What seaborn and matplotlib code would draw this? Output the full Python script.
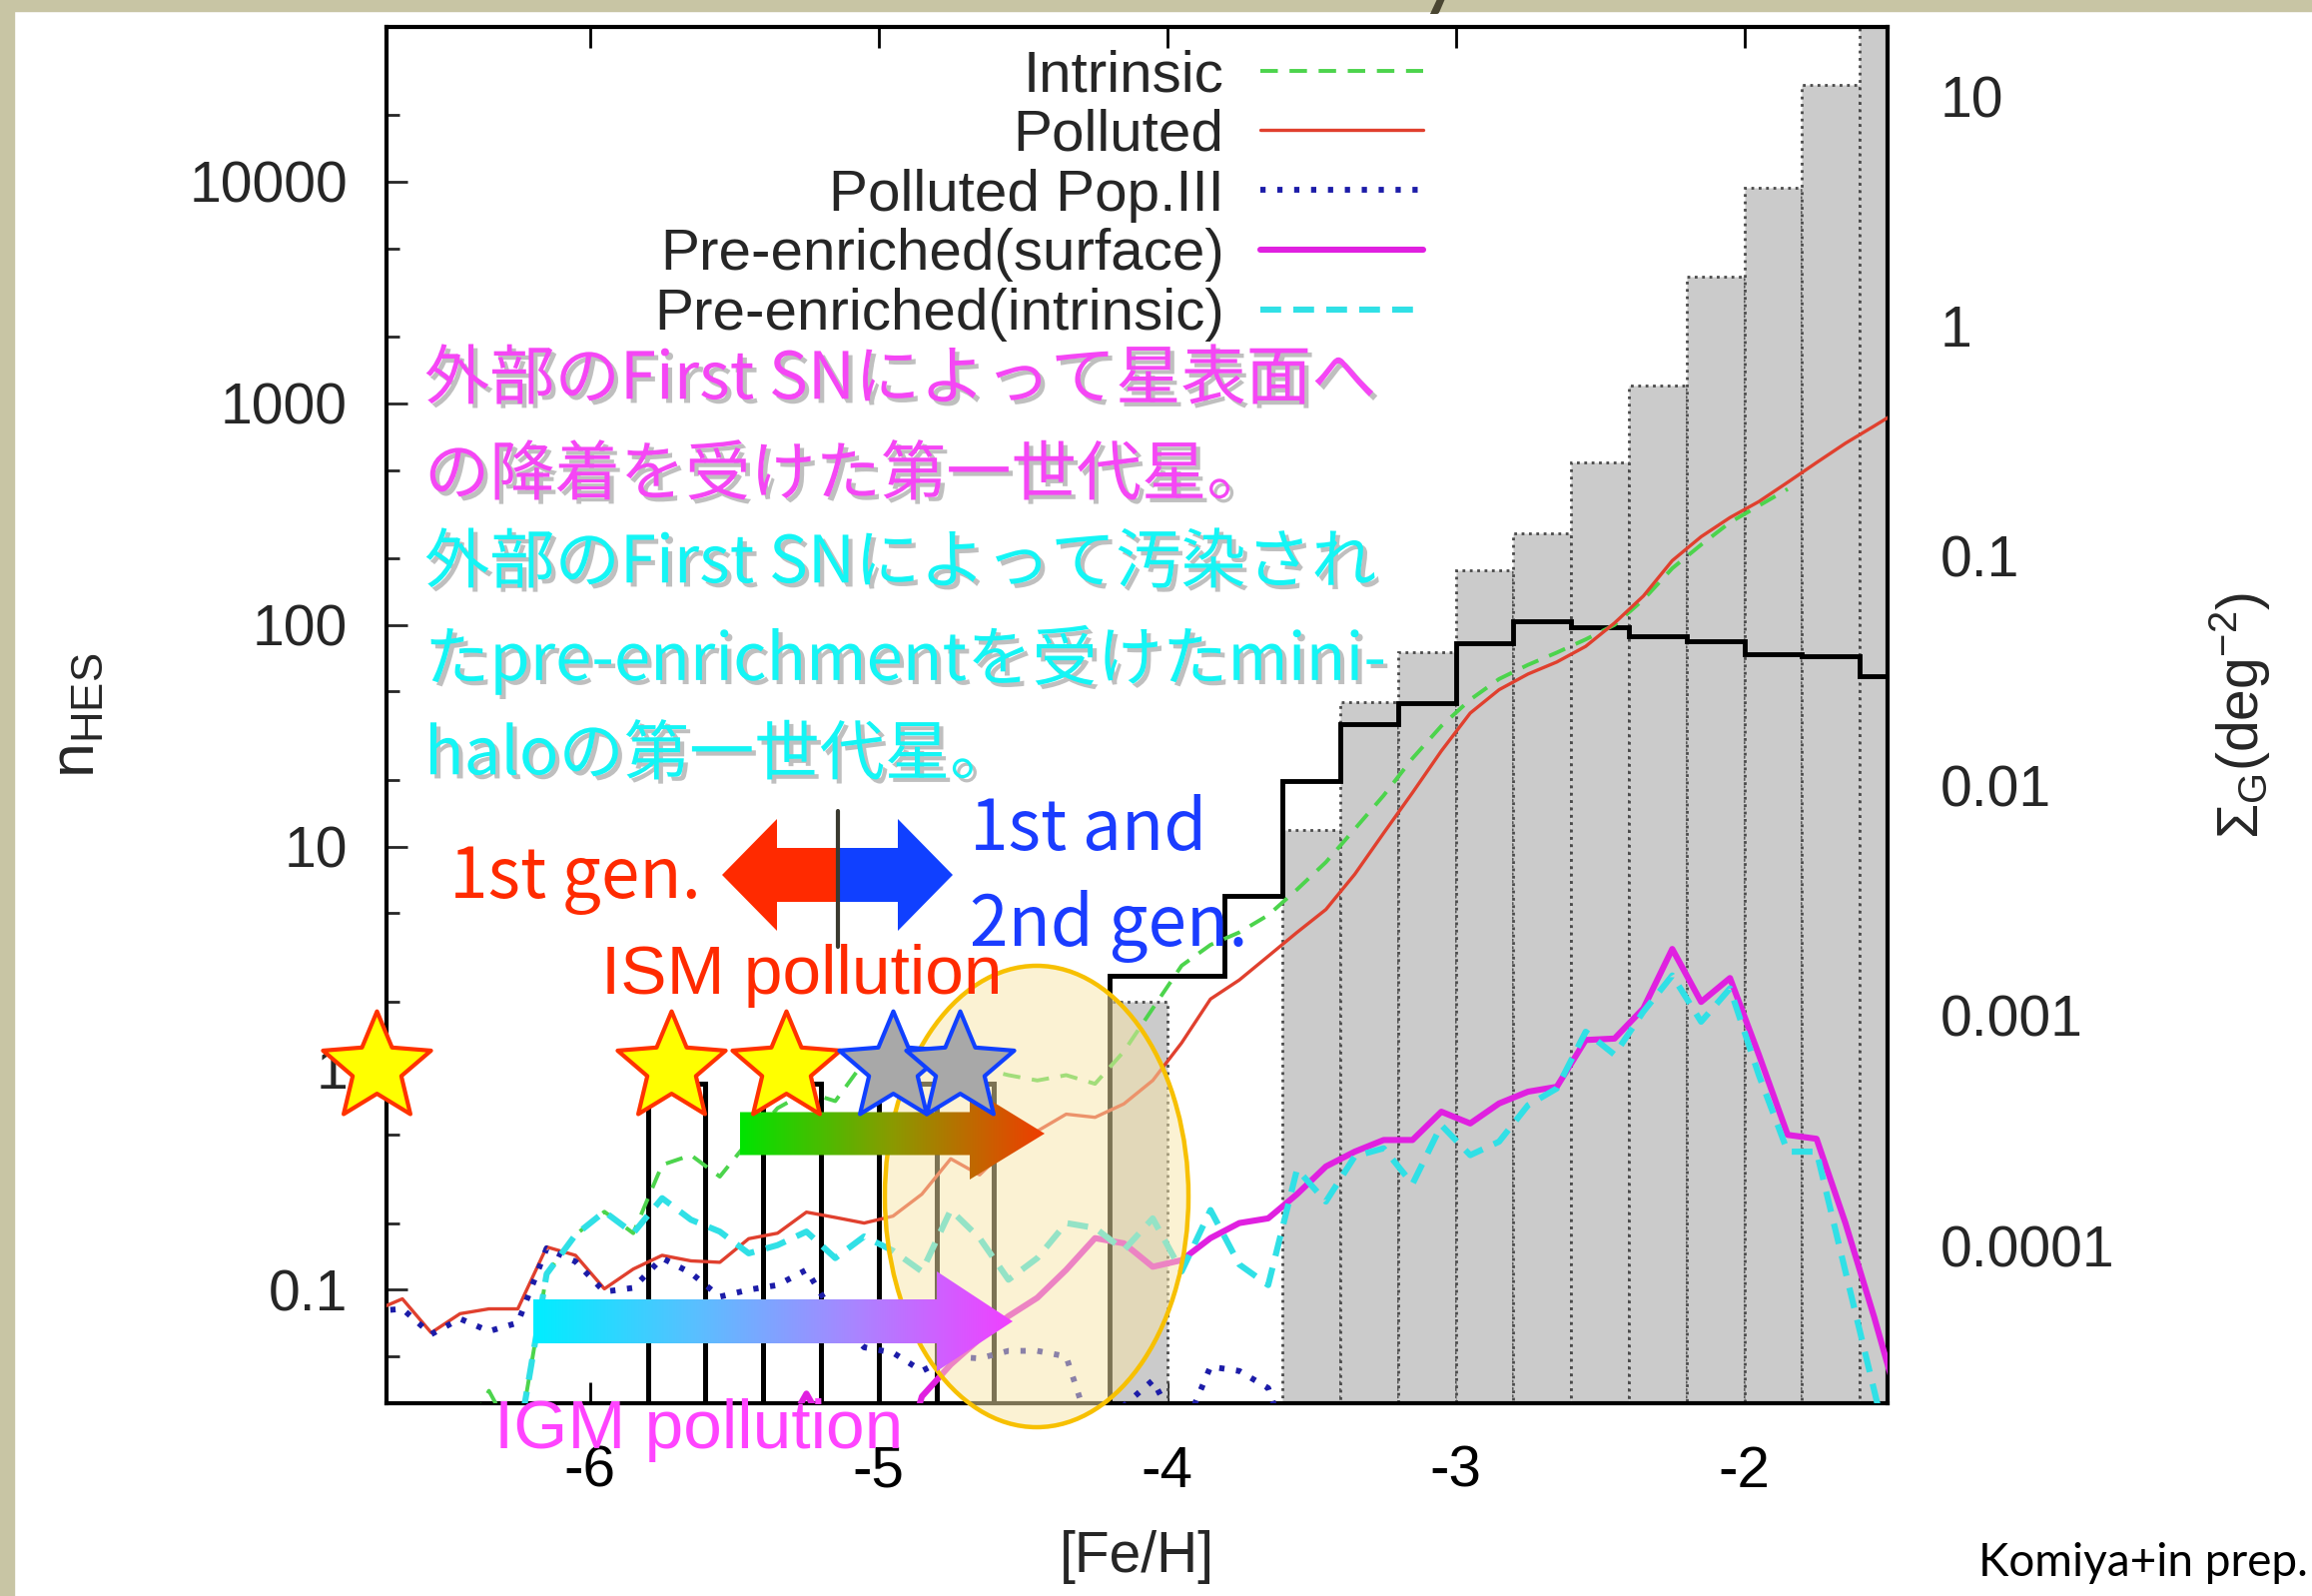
import numpy as np
import matplotlib
matplotlib.use('Agg')
import matplotlib.pyplot as plt
import matplotlib.patheffects as pe
from matplotlib.patches import Ellipse, Polygon, Rectangle
from matplotlib.path import Path
from matplotlib.colors import LinearSegmentedColormap
from matplotlib.ticker import LogLocator, NullLocator
import seaborn as sns

sns.set_theme(style='white')
plt.rcParams['font.family'] = ['Liberation Sans', 'DejaVu Sans']
plt.rcParams['axes.unicode_minus'] = False
plt.rcParams['mathtext.fontset'] = 'custom'
plt.rcParams['mathtext.rm'] = 'Liberation Sans'
plt.rcParams['mathtext.it'] = 'Liberation Sans:italic'

# ---- data ----
# model curves, [Fe/H] grid of 0.1 dex
polluted_x = [-6.75, -6.65, -6.55, -6.45, -6.35, -6.25, -6.15, -6.05, -5.95, -5.85,
              -5.75, -5.65, -5.55, -5.45, -5.35, -5.25, -5.15, -5.05, -4.95, -4.85,
              -4.75, -4.65, -4.55, -4.45, -4.35, -4.25, -4.15, -4.05, -3.95, -3.85,
              -3.75, -3.65, -3.55, -3.45, -3.35, -3.25, -3.15, -3.05, -2.95, -2.85,
              -2.75, -2.65, -2.55, -2.45, -2.35, -2.25, -2.15, -2.05, -1.95, -1.85,
              -1.75, -1.65, -1.55, -1.45]
polluted_y = [0.080, 0.091, 0.064, 0.078, 0.082, 0.082, 0.156, 0.143, 0.101, 0.124,
              0.143, 0.135, 0.133, 0.170, 0.180, 0.224, 0.212, 0.200, 0.215, 0.27,
              0.39, 0.33, 0.44, 0.52, 0.62, 0.60, 0.69, 0.88, 1.30, 2.05,
              2.5, 3.2, 4.1, 5.2, 7.5, 11.5, 17.5, 27, 40, 51,
              60, 68, 80, 102, 135, 195, 250, 305, 360, 440,
              540, 660, 790, 950]

intrinsic_x = [-6.45, -6.35, -6.25, -6.15, -6.05, -5.95, -5.85, -5.75, -5.65, -5.55,
               -5.45, -5.35, -5.25, -5.15, -5.05, -4.95, -4.85, -4.75, -4.65, -4.55,
               -4.45, -4.35, -4.25, -4.15, -4.05, -3.95, -3.85, -3.75, -3.65, -3.55,
               -3.45, -3.35, -3.25, -3.15, -3.05, -2.95, -2.85, -2.75, -2.65, -2.55,
               -2.45, -2.35, -2.25, -2.15, -2.05, -1.95, -1.85]
intrinsic_y = [0.02, 0.035, 0.02, 0.118, 0.177, 0.225, 0.18, 0.366, 0.405, 0.324,
               0.47, 0.66, 0.78, 0.71, 1.07, 1.20, 1.15, 1.05, 1.00, 0.93,
               0.88, 0.93, 0.85, 1.19, 1.86, 2.9, 3.6, 4.1, 4.9, 6.4,
               8.5, 12, 17, 25, 35, 46, 57, 66, 75, 86,
               100, 130, 180, 230, 290, 345, 410]

pop3_x = [-6.75, -6.65, -6.55, -6.45, -6.35, -6.25, -6.15, -6.05, -5.95, -5.85,
          -5.75, -5.65, -5.55, -5.45, -5.35, -5.25, -5.15, -5.05, -4.95, -4.85,
          -4.75, -4.65, -4.55, -4.45, -4.35, -4.25, -4.15, -4.05, -3.95, -3.85,
          -3.75, -3.65, -3.55]
pop3_y = [0.080, 0.082, 0.063, 0.074, 0.065, 0.071, 0.154, 0.134, 0.098, 0.102,
          0.139, 0.119, 0.093, 0.100, 0.105, 0.123, 0.075, 0.055, 0.052, 0.043,
          0.050, 0.049, 0.053, 0.053, 0.050, 0.020, 0.030, 0.039, 0.022, 0.045,
          0.043, 0.036, 0.015]

surface_x = [-5.35, -5.25, -5.15, -5.05, -4.95, -4.85, -4.75, -4.65, -4.55, -4.45,
             -4.35, -4.25, -4.15, -4.05, -3.95, -3.85, -3.75, -3.65, -3.55, -3.45,
             -3.35, -3.25, -3.15, -3.05, -2.95, -2.85, -2.75, -2.65, -2.55, -2.45,
             -2.35, -2.25, -2.15, -2.05, -1.95, -1.85, -1.75, -1.65, -1.55, -1.45]
surface_y = [0.02, 0.034, 0.02, 0.01, 0.012, 0.033, 0.046, 0.060, 0.076, 0.092,
             0.123, 0.171, 0.162, 0.127, 0.136, 0.171, 0.20, 0.21, 0.27, 0.36,
             0.42, 0.474, 0.474, 0.636, 0.563, 0.693, 0.783, 0.824, 1.34, 1.36,
             1.86, 3.45, 1.99, 2.55, 1.15, 0.50, 0.48, 0.20, 0.075, 0.026]

preint_x = [-6.25, -6.15, -6.05, -5.95, -5.85, -5.75, -5.65, -5.55, -5.45, -5.35,
            -5.25, -5.15, -5.05, -4.95, -4.85, -4.75, -4.65, -4.55, -4.45, -4.35,
            -4.25, -4.15, -4.05, -3.95, -3.85, -3.75, -3.65, -3.55, -3.45, -3.35,
            -3.25, -3.15, -3.05, -2.95, -2.85, -2.75, -2.65, -2.55, -2.45, -2.35,
            -2.25, -2.15, -2.05, -1.95, -1.85, -1.75, -1.65, -1.55, -1.45]
preint_y = [0.02, 0.118, 0.177, 0.225, 0.18, 0.259, 0.207, 0.183, 0.146, 0.159,
            0.183, 0.139, 0.174, 0.15, 0.121, 0.229, 0.171, 0.111, 0.139, 0.20,
            0.19, 0.151, 0.21, 0.121, 0.229, 0.13, 0.105, 0.35, 0.25, 0.40,
            0.435, 0.30, 0.553, 0.405, 0.466, 0.68, 0.81, 1.46, 1.15, 1.80,
            2.62, 1.62, 2.29, 0.93, 0.42, 0.42, 0.121, 0.035, 0.01]

# observed HES histogram (0.2 dex bins from -6.0 to -1.4)
hes_edges = [-6.0, -5.8, -5.6, -5.4, -5.2, -5.0, -4.8, -4.6, -4.4, -4.2, -4.0, -3.8,
             -3.6, -3.4, -3.2, -3.0, -2.8, -2.6, -2.4, -2.2, -2.0, -1.8, -1.6, -1.4]
hes_counts = [0, 0.85, 0, 0.85, 0, 0.85, 0.85, 0, 0, 2.6, 2.6, 6.0,
              19.7, 35.5, 44.5, 83, 104, 98, 89, 84, 74, 72, 58.6]

# grey histogram (left edges, 0.2 dex wide)
grey_left = [-4.2, -3.6, -3.4, -3.2, -3.0, -2.8, -2.6, -2.4, -2.2, -2.0, -1.8, -1.6]
grey_height = [2.0, 11.9, 45, 75, 177, 260, 543, 1200, 3740, 9350, 27400, 80000]

# observed stars marked on the plot
star_feh = [-6.74, -5.72, -5.32, -4.95, -4.72]
star_n = [1.0, 1.0, 1.0, 1.0, 1.0]

left_ticks = [0.1, 1, 10, 100, 1000, 10000]
left_labels = ['0.1', '1', '10', '100', '1000', '10000']
right_ticks = [1e-4, 1e-3, 1e-2, 1e-1, 1, 10]
right_labels = ['0.0001', '0.001', '0.01', '0.1', '1', '10']
x_ticks = [-6, -5, -4, -3, -2]

W, H = 2315, 1598
fig = plt.figure(figsize=(W / 100, H / 100), dpi=100)
fig.patch.set_facecolor('white')
ax = fig.add_axes([387 / W, 1 - 1405 / H, 1503 / W, 1378 / H])
ax.set_yscale('log')

# histograms
ax.bar(grey_left, grey_height, width=0.2, align='edge', color='#cbcbcb',
       edgecolor='#4a4a4a', linestyle=':', linewidth=2, zorder=1)
counts = np.array(hes_counts, dtype=float)
ax.stairs(np.where(counts > 0, counts, 1e-3), hes_edges, baseline=None,
          color='black', linewidth=3.5, zorder=2)
single = (counts > 0) & (counts < 1)
ax.bar(np.array(hes_edges[:-1])[single], counts[single], width=0.2, align='edge',
       fill=False, edgecolor='black', linewidth=3.5, zorder=2)

# model lines
sns.lineplot(x=intrinsic_x, y=intrinsic_y, ax=ax, color='#4cd44c', linewidth=2.8,
             linestyle=(0, (4.5, 3)), errorbar=None, label='Intrinsic', zorder=3)
sns.lineplot(x=polluted_x, y=polluted_y, ax=ax, color='#e0402e', linewidth=2.4,
             errorbar=None, label='Polluted', zorder=3)
sns.lineplot(x=pop3_x, y=pop3_y, ax=ax, color='#1c1ca8', linewidth=4.2,
             linestyle=(0, (0.9, 2.0)), errorbar=None, label='Polluted Pop.III', zorder=3)
sns.lineplot(x=surface_x, y=surface_y, ax=ax, color='#e020e0', linewidth=4.4,
             errorbar=None, label='Pre-enriched(surface)', zorder=3)
sns.lineplot(x=preint_x, y=preint_y, ax=ax, color='#30e0e6', linewidth=4.4,
             linestyle=(0, (3.4, 2.0)), errorbar=None, label='Pre-enriched(intrinsic)', zorder=3)

ax.set_xlim(-6.705, -1.504)
ax.set_ylim(10 ** -1.512, 10 ** 4.698)
ax.set_xticks(x_ticks)
ax.set_xticklabels([str(t) for t in x_ticks])
ax.set_yticks(left_ticks)
ax.set_yticklabels(left_labels)
ax.yaxis.set_minor_locator(LogLocator(base=10, subs=(2, 5)))
ax.tick_params(axis='x', which='both', direction='in', top=True, bottom=True,
               length=15, width=2, pad=30, labelsize=42, colors='black')
ax.tick_params(axis='y', which='major', direction='in', left=True, right=False,
               length=15, width=2, pad=28, labelsize=41)
ax.tick_params(axis='y', which='minor', direction='in', left=True, right=False,
               length=9, width=2)
ax.xaxis.set_minor_locator(NullLocator())
for s in ax.spines.values():
    s.set_linewidth(3)
    s.set_color('black')
ax.set_xlabel('[Fe/H]', fontsize=41)
ax.xaxis.set_label_coords(0.5, -0.092)
ax.set_ylabel(r'n$_{\mathrm{HES}}$', fontsize=45)
ax.yaxis.set_label_coords(-0.186, 0.5)

leg = ax.legend(loc='upper right', bbox_to_anchor=(1425 / W, 1 - 49 / H),
                bbox_transform=fig.transFigure, frameon=False, markerfirst=False,
                fontsize=42, handlelength=2.8, handletextpad=0.62, labelspacing=0.1,
                borderpad=0, borderaxespad=0)

# right axis: Sigma_G
ax2 = ax.twinx()
ax2.set_yscale('log')
ax2.set_ylim(10 ** -4.686, 10 ** 1.301)
ax2.set_yticks(right_ticks)
ax2.set_yticklabels(right_labels)
ax2.yaxis.set_minor_locator(NullLocator())
ax2.tick_params(axis='y', which='both', length=0, pad=38, labelsize=41)
ax2.set_ylabel(r'$\Sigma_{\mathrm{G}}$(deg$^{-2}$)', fontsize=41)
ax2.yaxis.set_label_coords(1.213, 0.5)
for s in ax2.spines.values():
    s.set_visible(False)

# ---- slide annotations (pixel coordinates of the slide) ----
ov = fig.add_axes([0, 0, 1, 1], zorder=5)
ov.axis('off')

beige = '#c8c5a4'
ov.add_patch(Rectangle((0, 0), W, 11, color=beige, zorder=0))
ov.add_patch(Rectangle((0, 0), 14, H, color=beige, zorder=0))
ov.text(1442, 2, 'y', fontsize=50, fontweight='bold', color='#4a4632', ha='center',
        va='baseline', family=['Lato'], zorder=1)

ov.add_patch(Ellipse((1038, 1198), 304, 462, facecolor=(0.976, 0.90, 0.66, 0.5),
                     edgecolor='#f7c000', linewidth=3.2, zorder=1))


def arrow_verts(x0, x1, yc, hs, hh, hl):
    d = 1 if x1 > x0 else -1
    xb = x1 - d * hl
    return [(x0, yc - hs), (xb, yc - hs), (xb, yc - hh), (x1, yc),
            (xb, yc + hh), (xb, yc + hs), (x0, yc + hs)]


ov.add_patch(Polygon(arrow_verts(839, 723, 876, 27, 56, 55), closed=True,
                     facecolor='#ff2a00', edgecolor='none', zorder=2))
ov.add_patch(Polygon(arrow_verts(839, 954, 876, 27, 56, 55), closed=True,
                     facecolor='#1040ff', edgecolor='none', zorder=2))
ov.plot([839, 839], [812, 948], color='#3a3a30', linewidth=3, zorder=3)

grad = np.linspace(0, 1, 256)[None, :]
cmap1 = LinearSegmentedColormap.from_list('g2r', ['#00e400', '#8a9a00', '#f03c00'])
cmap2 = LinearSegmentedColormap.from_list('c2m', ['#00eeff', '#58c0ff', '#a886ff', '#f040ff'])
for (x0, x1, yc, hs, hh, hl), cm in [((741, 1046, 1135, 21.5, 46, 75), cmap1),
                                      ((534, 1014, 1323, 22, 50, 76), cmap2)]:
    poly = Polygon(arrow_verts(x0, x1, yc, hs, hh, hl), closed=True,
                   facecolor='none', edgecolor='none')
    ov.add_patch(poly)
    im = ov.imshow(grad, cmap=cm, extent=(x0, x1, yc + hh, yc - hh), aspect='auto',
                   interpolation='bilinear', zorder=2)
    im.set_clip_path(poly)

star = Path.unit_regular_star(5, innerCircle=0.45)
ov.scatter(star_feh[:3], star_n[:3], s=6700, marker=star, facecolor='#ffff00',
           edgecolor='#ff3300', linewidths=3, transform=ax.transData, zorder=4)
ov.scatter(star_feh[3:], star_n[3:], s=6700, marker=star, facecolor='#a8a8a8',
           edgecolor='#1040ff', linewidths=3, transform=ax.transData, zorder=4)

jp = ['Noto Sans CJK JP']
shadow = [pe.withSimplePatchShadow(offset=(3, -3), shadow_rgbFace=(0.45, 0.45, 0.45), alpha=0.45)]
mag, cyn = '#f546f5', '#14f5f5'
for txt, yy, col in [('外部のFirst SNによって星表面へ', 381, mag),
                     ('の降着を受けた第一世代星。', 477, mag),
                     ('外部のFirst SNによって汚染され', 565, cyn),
                     ('たpre-enrichmentを受けたmini-', 661, cyn),
                     ('haloの第一世代星。', 757, cyn)]:
    ov.text(425, yy, txt, color=col, fontsize=47, family=jp, ha='left', va='center',
            path_effects=shadow, zorder=6)

ov.text(450, 880, '1st gen.', color='#ff2a00', fontsize=50, family=jp, ha='left', va='center', zorder=6)
ov.text(971, 831, '1st and', color='#1a3cff', fontsize=50, family=jp, ha='left', va='center', zorder=6)
ov.text(971, 927, '2nd gen.', color='#1a3cff', fontsize=50, family=jp, ha='left', va='center', zorder=6)
ov.text(602, 977, 'ISM pollution', color='#ff2a00', fontsize=50, ha='left', va='center', zorder=6)
ov.text(495, 1432, 'IGM pollution', color='#ff44ff', fontsize=50, ha='left', va='center', zorder=6)
ov.text(2311, 1565, 'Komiya+in prep.', color='black', fontsize=33, family=['Lato'],
        ha='right', va='center', zorder=6)

ov.set_xlim(0, W)
ov.set_ylim(H, 0)

fig.savefig('out.png', dpi=100)
